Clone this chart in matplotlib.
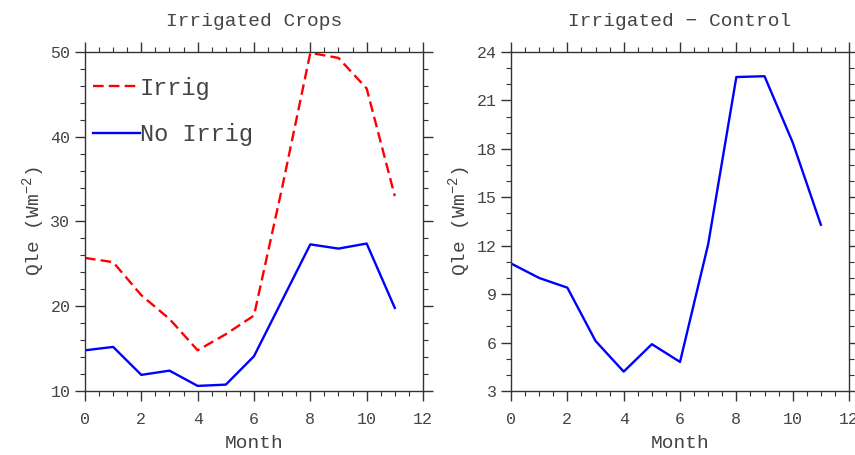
import matplotlib
matplotlib.use("Agg")
import matplotlib.pyplot as plt
from matplotlib.ticker import MultipleLocator

months = list(range(12))
irrig = [25.7, 25.2, 21.3, 18.5, 14.8, 16.7, 18.9, 34.0, 49.9, 49.3, 45.7, 33.0]
no_irrig = [14.8, 15.2, 11.9, 12.4, 10.6, 10.75, 14.1, 20.7, 27.3, 26.8, 27.4, 19.8]
diff = [10.9, 10.0, 9.4, 6.1, 4.2, 5.9, 4.8, 12.1, 22.45, 22.5, 18.4, 13.3]

titles = ["Irrigated Crops", "Irrigated \u2212 Control"]
xlabel = "Month"
ylabel = "Qle (Wm$^{-2}$)"

plt.rcParams['font.family'] = ['Liberation Mono', 'DejaVu Sans Mono']
plt.rcParams['mathtext.fontset'] = 'custom'
plt.rcParams['mathtext.rm'] = 'Liberation Mono'
tc = '#444444'

fig = plt.figure(figsize=(8.55, 4.55), dpi=100)
ax1 = fig.add_axes([0.0994, 0.1407, 0.3953, 0.745])
ax2 = fig.add_axes([0.5977, 0.1407, 0.3953, 0.745])

ax1.plot(months, irrig, color='red', lw=1.7, dashes=(4.5, 2.2), label='Irrig')
ax1.plot(months, no_irrig, color='blue', lw=1.7, label='No Irrig')
ax1.set_ylim(10, 50)
ax1.yaxis.set_major_locator(MultipleLocator(10))
ax1.yaxis.set_minor_locator(MultipleLocator(2))
leg = ax1.legend(loc='upper left', frameon=False, fontsize=17, handlelength=2.0,
                 handletextpad=0.0, labelspacing=1.0, bbox_to_anchor=(-0.04, 0.99))
for t in leg.get_texts():
    t.set_color(tc)

ax2.plot(months, diff, color='blue', lw=1.7)
ax2.set_ylim(3, 24)
ax2.yaxis.set_major_locator(MultipleLocator(3))
ax2.yaxis.set_minor_locator(MultipleLocator(1))

for ax, title in zip([ax1, ax2], titles):
    ax.set_xlim(0, 12)
    ax.xaxis.set_major_locator(MultipleLocator(2))
    ax.xaxis.set_minor_locator(MultipleLocator(0.5))
    ax.tick_params(which='both', direction='out', top=True, right=True,
                   labelsize=12, labelcolor=tc, color='#333333')
    ax.tick_params(which='major', length=7, width=1)
    ax.tick_params(axis='x', which='major', pad=8)
    ax.tick_params(which='minor', length=3.5, width=0.8)
    for s in ax.spines.values():
        s.set_color('#333333')
        s.set_linewidth(1.0)
    ax.set_title(title, fontsize=14, color=tc, pad=19)
    ax.set_xlabel(xlabel, fontsize=14, color=tc, labelpad=6)
    ax.set_ylabel(ylabel, fontsize=14, color=tc, labelpad=2)

fig.savefig('out.png', dpi=100)
